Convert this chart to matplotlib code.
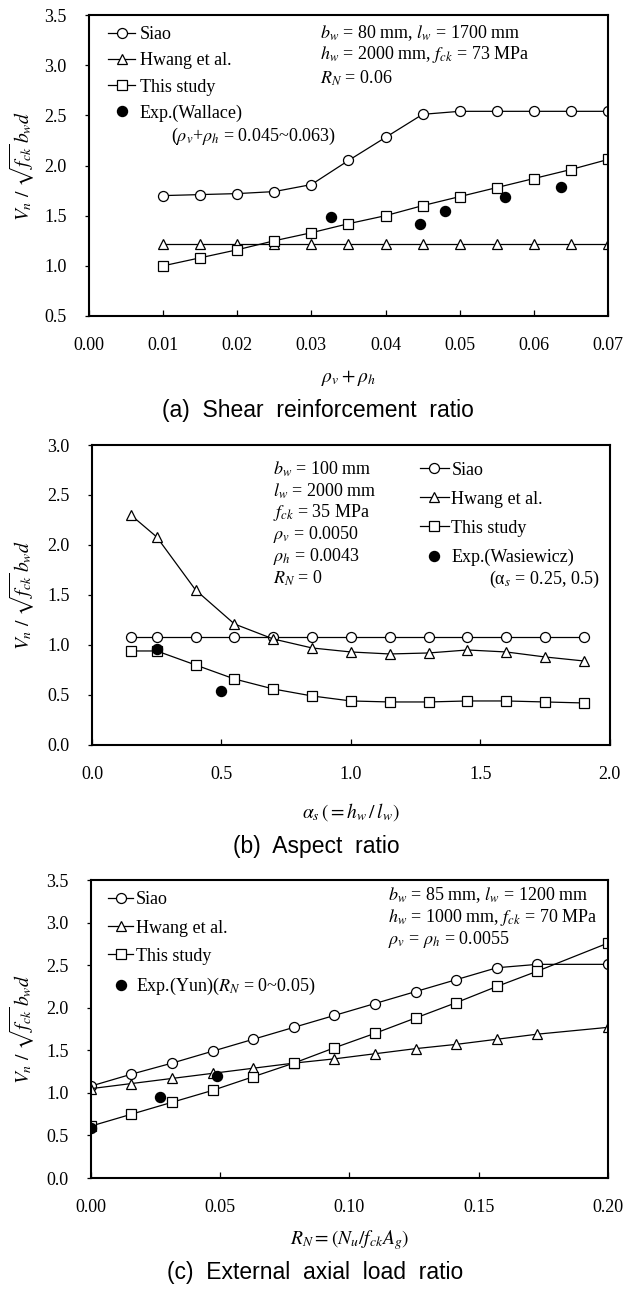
import numpy as np
import matplotlib
matplotlib.use("Agg")
import matplotlib.pyplot as plt

plt.rcParams['font.family'] = ['Liberation Serif', 'DejaVu Serif']
plt.rcParams['mathtext.fontset'] = 'stix'

# (a) shear reinforcement ratio
rho_a = [0.010, 0.015, 0.020, 0.025, 0.030, 0.035, 0.040, 0.045, 0.050, 0.055, 0.060, 0.065, 0.070]
siao_a = [1.70, 1.71, 1.72, 1.74, 1.81, 2.05, 2.28, 2.51, 2.54, 2.54, 2.54, 2.54, 2.54]
hwang_a = [1.22, 1.22, 1.22, 1.22, 1.22, 1.22, 1.22, 1.22, 1.22, 1.22, 1.22, 1.22, 1.22]
study_a = [1.00, 1.08, 1.16, 1.25, 1.33, 1.42, 1.50, 1.60, 1.69, 1.78, 1.87, 1.96, 2.06]
exp_x_a = [0.0327, 0.0446, 0.0480, 0.0561, 0.0636]
exp_y_a = [1.49, 1.42, 1.55, 1.69, 1.79]

# (b) aspect ratio
as_b = [0.15, 0.25, 0.40, 0.55, 0.70, 0.85, 1.00, 1.15, 1.30, 1.45, 1.60, 1.75, 1.90]
siao_b = [1.08] * 13
hwang_b = [2.30, 2.08, 1.55, 1.21, 1.06, 0.97, 0.93, 0.91, 0.92, 0.95, 0.93, 0.88, 0.84]
study_b = [0.94, 0.94, 0.80, 0.66, 0.56, 0.49, 0.44, 0.43, 0.43, 0.44, 0.44, 0.43, 0.42]
exp_x_b = [0.25, 0.50]
exp_y_b = [0.96, 0.54]

# (c) external axial load ratio
rn_c = [0.0, 0.0157, 0.0314, 0.0471, 0.0628, 0.0785, 0.0942, 0.1099, 0.1256, 0.1413, 0.1570, 0.1727, 0.2000]
siao_c = [1.08, 1.22, 1.35, 1.49, 1.63, 1.77, 1.91, 2.05, 2.19, 2.33, 2.47, 2.51, 2.51]
hwang_c = [1.05, 1.11, 1.17, 1.23, 1.29, 1.35, 1.40, 1.46, 1.52, 1.57, 1.63, 1.69, 1.77]
study_c = [0.61, 0.75, 0.89, 1.03, 1.19, 1.35, 1.53, 1.70, 1.88, 2.06, 2.25, 2.43, 2.76]
exp_x_c = [0.0, 0.0267, 0.0489]
exp_y_c = [0.59, 0.95, 1.20]

ylabel = r'$V_n\ /\ \sqrt{f_{ck}}\,b_w d$'


def draw_series(ax, x, siao, hwang, study, ex, ey, exp_label):
    kw = dict(color='black', lw=0.9, mfc='white', mec='black', mew=0.9)
    h1, = ax.plot(x, siao, marker='o', ms=7.2, label='Siao', **kw)
    h2, = ax.plot(x, hwang, marker='^', ms=7.8, label='Hwang et al.', **kw)
    h3, = ax.plot(x, study, marker='s', ms=7, label='This study', **kw)
    h4, = ax.plot(ex, ey, ls='none', marker='o', ms=7.2, color='black',
                  label=exp_label, zorder=5)
    return [h1, h2, h3, h4]


def style_axes(ax, xticks, xfmt, yticks, xlabel, ylx, xly):
    ax.set_xlim(xticks[0], xticks[-1])
    ax.set_ylim(yticks[0], yticks[-1])
    ax.set_xticks(xticks)
    ax.set_yticks(yticks)
    ax.set_xticklabels([xfmt % v for v in xticks])
    ax.set_yticklabels(['%.1f' % v for v in yticks])
    ax.tick_params(axis='x', direction='in', length=4, width=0.9, pad=15, labelsize=13)
    ax.tick_params(axis='y', direction='out', length=3, width=0.9, pad=13, labelsize=13)
    for s in ax.spines.values():
        s.set_linewidth(1.5)
    ax.set_ylabel(ylabel, fontsize=14)
    ax.yaxis.set_label_coords(ylx, 0.5)
    ax.set_xlabel(xlabel, fontsize=14)
    ax.xaxis.set_label_coords(0.5, xly)
    ax.xaxis.label.set_va('center')


fig = plt.figure(figsize=(6.4, 12.94), dpi=100)

# ---- (a)
ax = fig.add_axes([0.139, 0.7558, 0.811, 0.2326])
hs = draw_series(ax, rho_a, siao_a, hwang_a, study_a, exp_x_a, exp_y_a, 'Exp.(Wallace)')
style_axes(ax, [0, 0.01, 0.02, 0.03, 0.04, 0.05, 0.06, 0.07], '%.2f',
           [0.5, 1.0, 1.5, 2.0, 2.5, 3.0, 3.5], r'$\rho_v + \rho_h$', -0.10, -0.206)
ax.legend(handles=hs, loc='upper left', bbox_to_anchor=(0.037, 0.962), frameon=False,
          fontsize=13, handlelength=1.5, handletextpad=0.25, labelspacing=0.5,
          borderpad=0, borderaxespad=0, numpoints=1)
ax.text(0.445, 0.94, r'$b_w$ = 80 mm, $l_w$ = 1700 mm', transform=ax.transAxes, fontsize=13, va='center')
ax.text(0.445, 0.87, r'$h_w$ = 2000 mm, $f_{ck}$ = 73 MPa', transform=ax.transAxes, fontsize=13, va='center')
ax.text(0.445, 0.79, r'$R_N$ = 0.06', transform=ax.transAxes, fontsize=13, va='center')
ax.text(0.158, 0.595, r'($\rho_v$+$\rho_h$ = 0.045~0.063)', transform=ax.transAxes, fontsize=13, va='center')

# ---- (b)
ax = fig.add_axes([0.1438, 0.4243, 0.809, 0.2318])
hs = draw_series(ax, as_b, siao_b, hwang_b, study_b, exp_x_b, exp_y_b, 'Exp.(Wasiewicz)')
style_axes(ax, [0, 0.5, 1.0, 1.5, 2.0], '%.1f',
           [0.0, 0.5, 1.0, 1.5, 2.0, 2.5, 3.0], r'$\alpha_s\,({=}h_w\,/\,l_w)$', -0.106, -0.223)
ax.legend(handles=hs, loc='upper left', bbox_to_anchor=(0.633, 0.945), frameon=False,
          fontsize=13, handlelength=1.6, handletextpad=0.15, labelspacing=0.67,
          borderpad=0, borderaxespad=0, numpoints=1)
ax.text(0.98, 0.553, r'(α$_s$ = 0.25, 0.5)', transform=ax.transAxes, fontsize=13,
        va='center', ha='right')
notes_b = [r'$b_w$ = 100 mm', r'$l_w$ = 2000 mm', r'$f_{ck}$ = 35 MPa',
           r'$\rho_v$ = 0.0050', r'$\rho_h$ = 0.0043', r'$R_N$ = 0']
for i, t in enumerate(notes_b):
    ax.text(0.349, 0.92 - i * 0.073, t, transform=ax.transAxes, fontsize=13, va='center')

# ---- (c)
ax = fig.add_axes([0.142, 0.0896, 0.808, 0.2303])
hs = draw_series(ax, rn_c, siao_c, hwang_c, study_c, exp_x_c, exp_y_c, r'Exp.(Yun)($R_N$ = 0~0.05)')
style_axes(ax, [0, 0.05, 0.10, 0.15, 0.20], '%.2f',
           [0.0, 0.5, 1.0, 1.5, 2.0, 2.5, 3.0, 3.5], r'$R_N = (N_u/f_{ck}A_g)$', -0.104, -0.208)
ax.legend(handles=hs, loc='upper left', bbox_to_anchor=(0.033, 0.962), frameon=False,
          fontsize=13, handlelength=1.4, handletextpad=0.15, labelspacing=0.62,
          borderpad=0, borderaxespad=0, numpoints=1)
ax.text(0.574, 0.95, r'$b_w$ = 85 mm, $l_w$ = 1200 mm', transform=ax.transAxes, fontsize=13, va='center')
ax.text(0.574, 0.876, r'$h_w$ = 1000 mm, $f_{ck}$ = 70 MPa', transform=ax.transAxes, fontsize=13, va='center')
ax.text(0.574, 0.802, r'$\rho_v$ = $\rho_h$ = 0.0055', transform=ax.transAxes, fontsize=13, va='center')

# captions
cap_kw = dict(ha='center', va='center', fontsize=16.5, family=['Liberation Sans', 'DejaVu Sans'])
fig.text(0.497, 1 - 410 / 1294, '(a)  Shear  reinforcement  ratio', **cap_kw)
fig.text(0.494, 1 - 847 / 1294, '(b)  Aspect  ratio', **cap_kw)
fig.text(0.492, 1 - 1273 / 1294, '(c)  External  axial  load  ratio', **cap_kw)

fig.savefig('out.png', dpi=100)
